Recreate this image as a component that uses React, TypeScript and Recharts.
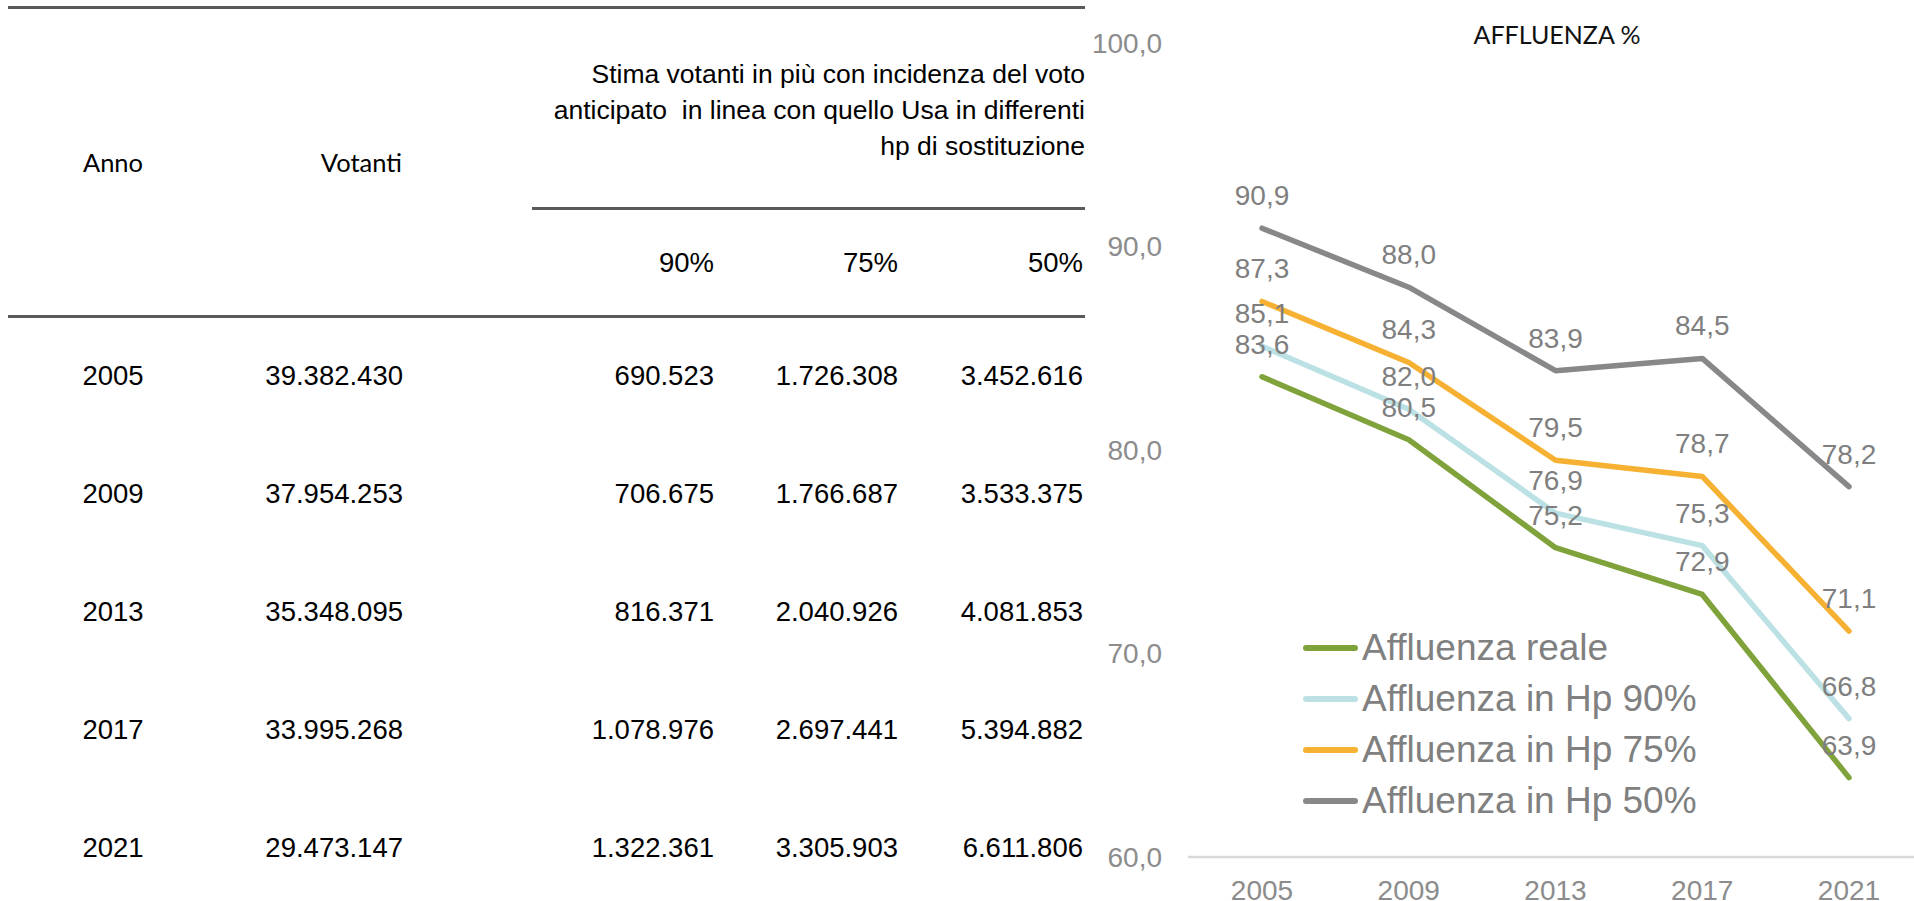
import { LineChart, Line, XAxis, YAxis, LabelList, Legend } from "recharts"

// chart values
const years = ["2005", "2009", "2013", "2017", "2021"]
const affluenzaReale = [83.6, 80.5, 75.2, 72.9, 63.9]
const affluenzaHp90 = [85.1, 82.0, 76.9, 75.3, 66.8]
const affluenzaHp75 = [87.3, 84.3, 79.5, 78.7, 71.1]
const affluenzaHp50 = [90.9, 88.0, 83.9, 84.5, 78.2]
const yTicks = [60, 70, 80, 90, 100]

// table values
const votanti = ["39.382.430", "37.954.253", "35.348.095", "33.995.268", "29.473.147"]
const stima90 = ["690.523", "706.675", "816.371", "1.078.976", "1.322.361"]
const stima75 = ["1.726.308", "1.766.687", "2.040.926", "2.697.441", "3.305.903"]
const stima50 = ["3.452.616", "3.533.375", "4.081.853", "5.394.882", "6.611.806"]
const headerLines = [
  "Stima votanti in più con incidenza del voto",
  "anticipato  in linea con quello Usa in differenti",
  "hp di sostituzione",
]
const hpHeaders = ["90%", "75%", "50%"]

const series = [
  { key: "reale", name: "Affluenza reale", color: "#7FA23A" },
  { key: "hp90", name: "Affluenza in Hp 90%", color: "#BCE1E4" },
  { key: "hp75", name: "Affluenza in Hp 75%", color: "#F6B132" },
  { key: "hp50", name: "Affluenza in Hp 50%", color: "#88888A" },
]

const data = years.map((year, i) => ({
  year,
  reale: affluenzaReale[i],
  hp90: affluenzaHp90[i],
  hp75: affluenzaHp75[i],
  hp50: affluenzaHp50[i],
}))

const ARIAL = "'Liberation Sans', Arial, sans-serif"
const CALIBRI = "Lato, 'Open Sans', sans-serif"
const fmt = (v: any) => Number(v).toFixed(1).replace(".", ",")

function Txt({ x, y, align = "left", font = ARIAL, size = 27.5, color = "#000", children }: any) {
  const w = 700
  const left = align === "right" ? x - w : align === "center" ? x - w / 2 : x
  return (
    <div
      style={{
        position: "absolute",
        left,
        top: y - 20,
        width: w,
        height: 40,
        lineHeight: "40px",
        textAlign: align,
        fontFamily: font,
        fontSize: size,
        color,
        whiteSpace: "pre",
      }}
    >
      {children}
    </div>
  )
}

function Rule({ x, y, w }: any) {
  return <div style={{ position: "absolute", left: x, top: y, width: w, height: 3, background: "#5A5A5A" }} />
}

const renderLegend = () => (
  <div>
    {series.map((s) => (
      <div key={s.key} style={{ display: "flex", alignItems: "center", height: 51 }}>
        <div style={{ width: 55, height: 6, borderRadius: 3, background: s.color }} />
        <span style={{ marginLeft: 4, fontFamily: ARIAL, fontSize: 37, color: "#808080", whiteSpace: "nowrap" }}>
          {s.name}
        </span>
      </div>
    ))}
  </div>
)

export default function App() {
  const rowY = years.map((_, i) => 376 + i * 118)
  return (
    <div
      style={{
        position: "fixed",
        left: 0,
        top: 0,
        width: 1914,
        height: 901,
        overflow: "hidden",
        background: "#fff",
      }}
    >
      {/* table */}
      <Rule x={8} y={6} w={1077} />
      <Rule x={532} y={207} w={553} />
      <Rule x={8} y={315} w={1077} />

      <Txt x={113} y={162} align="center" font={CALIBRI} size={25.5}>Anno</Txt>
      <Txt x={402} y={162} align="right" font={CALIBRI} size={25.5}>Votanti</Txt>
      {headerLines.map((t, i) => (
        <Txt key={t} x={1085} y={74 + i * 36} align="right" size={26.5}>{t}</Txt>
      ))}
      {hpHeaders.map((t, i) => (
        <Txt key={t} x={[714, 898, 1083][i]} y={263} align="right">{t}</Txt>
      ))}
      {years.map((yr, i) => (
        <div key={yr}>
          <Txt x={113} y={rowY[i]} align="center">{yr}</Txt>
          <Txt x={403} y={rowY[i]} align="right">{votanti[i]}</Txt>
          <Txt x={714} y={rowY[i]} align="right">{stima90[i]}</Txt>
          <Txt x={898} y={rowY[i]} align="right">{stima75[i]}</Txt>
          <Txt x={1083} y={rowY[i]} align="right">{stima50[i]}</Txt>
        </div>
      ))}

      {/* chart */}
      <Txt x={1557} y={34} align="center" font={CALIBRI} size={25} color="#111">AFFLUENZA %</Txt>
      <div style={{ position: "absolute", left: 1090, top: 0 }}>
        <LineChart width={824} height={901} data={data} margin={{ top: 43, right: 0, bottom: 0, left: 0 }}>
          <XAxis
            dataKey="year"
            height={44}
            padding={{ left: 74, right: 65 }}
            interval={0}
            tickLine={false}
            tickSize={0}
            tickMargin={23}
            axisLine={{ stroke: "#D9D9D9", strokeWidth: 2.5 }}
            tick={{ fill: "#8C8C8C", fontSize: 28, fontFamily: ARIAL }}
          />
          <YAxis
            width={98}
            domain={[60, 100]}
            ticks={yTicks}
            axisLine={false}
            tickLine={false}
            tickSize={0}
            tickMargin={26}
            tickFormatter={fmt}
            tick={{ fill: "#8C8C8C", fontSize: 28, fontFamily: ARIAL }}
          />
          <Legend
            layout="vertical"
            align="center"
            verticalAlign="middle"
            content={renderLegend}
            wrapperStyle={{ position: "absolute", left: 213, top: 622, width: "auto" }}
          />
          {series.map((s) => (
            <Line
              key={s.key}
              type="linear"
              dataKey={s.key}
              name={s.name}
              stroke={s.color}
              strokeWidth={5.5}
              strokeLinecap="round"
              strokeLinejoin="round"
              dot={false}
              activeDot={false}
              isAnimationActive={false}
            >
              <LabelList
                dataKey={s.key}
                position="top"
                offset={23}
                formatter={fmt}
                fill="#7F7F7F"
                fontSize={28}
                fontFamily={ARIAL}
              />
            </Line>
          ))}
        </LineChart>
      </div>
    </div>
  )
}
